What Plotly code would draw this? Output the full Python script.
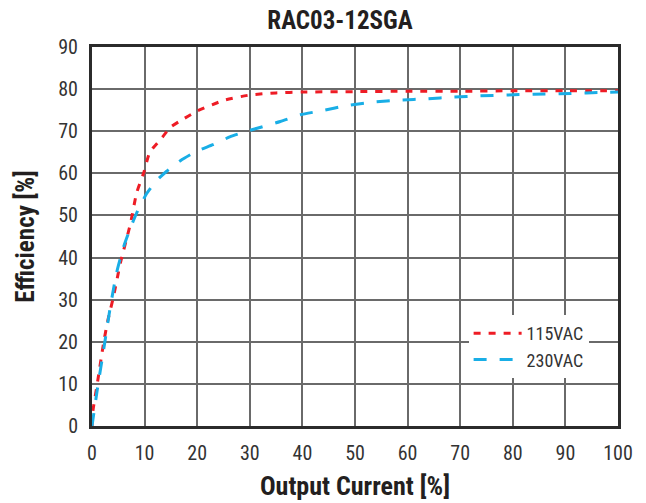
import plotly.graph_objects as go

x115 = [0, 0.2, 1, 2.2, 3, 4.1, 5.4, 7.3, 8.5, 9.8, 11, 13, 15, 17.5, 20, 25, 30, 35, 40, 50, 60, 70, 80, 90, 100]
y115 = [0, 3.8, 10, 19.7, 25, 30.8, 38.7, 48, 55.4, 60, 65, 68, 71, 73, 74.8, 77.3, 78.6, 79.1, 79.3, 79.4, 79.5, 79.5, 79.6, 79.6, 79.6]

x230 = [0, 1, 2.2, 3.5, 4.7, 6, 7.3, 8.5, 10.4, 12.3, 14.2, 16.8, 20, 23, 26.3, 30, 35.8, 39.6,
        43.4, 48.5, 53.5, 58.6, 63.7, 68.7, 73.8, 78.9, 83.9, 89, 94, 100]
y230 = [0, 8.6, 18, 28.4, 36.5, 42.5, 47, 50.6, 55.2, 58.3, 60.5, 63, 65.3, 66.8, 68.7, 70.2, 72.3, 73.9,
        74.8, 76.1, 76.9, 77.4, 77.7, 78.1, 78.4, 78.6, 78.8, 78.9, 79.1, 79.3]

x_ticks = [0, 10, 20, 30, 40, 50, 60, 70, 80, 90, 100]
y_ticks = [0, 10, 20, 30, 40, 50, 60, 70, 80, 90]

FONT = "Roboto Condensed, Liberation Sans Narrow, Arial Narrow, sans-serif"

fig = go.Figure()
fig.add_trace(go.Scatter(x=x115, y=y115, mode="lines", name="115VAC",
                         line=dict(color="#ee1c25", width=3, dash="7px,8px", shape="spline", smoothing=0.6)))
fig.add_trace(go.Scatter(x=x230, y=y230, mode="lines", name="230VAC",
                         line=dict(color="#19aee6", width=3, dash="13px,13px", shape="spline", smoothing=0.6)))

axis_common = dict(showgrid=True, gridcolor="#6a6a6a", gridwidth=1.5,
                   showline=True, linecolor="#2b2b2b", linewidth=3, mirror=True,
                   ticks="", zeroline=False, ticklabelstandoff=7, automargin=False,
                   tickfont=dict(family=FONT, size=20, color="#333333"))

fig.update_layout(
    width=646, height=503,
    margin=dict(l=92, r=28, t=47, b=77),
    paper_bgcolor="white", plot_bgcolor="white",
    title=dict(text="<b>RAC03-12SGA</b>", x=340 / 646, xanchor="center", y=1 - 20 / 503, yanchor="middle",
               font=dict(family=FONT, size=25, color="#231f20")),
    xaxis=dict(range=[0, 100], tickvals=x_ticks, ticktext=[str(v) for v in x_ticks],
               title=dict(text="<b>Output Current [%]</b>", standoff=13,
                          font=dict(family=FONT, size=26, color="#231f20")),
               **axis_common),
    yaxis=dict(range=[0, 90], tickvals=y_ticks, ticktext=[str(v) for v in y_ticks],
               title=dict(text="<b>Efficiency [%]</b>", standoff=17,
                          font=dict(family=FONT, size=25, color="#231f20")),
               **axis_common),
    legend=dict(x=0.716, y=0.293, xanchor="left", yanchor="top", bgcolor="white",
                borderwidth=0, font=dict(family=FONT, size=18, color="#333333"),
                itemwidth=48, tracegroupgap=0),
    showlegend=True,
)

fig.write_html("out.html")
